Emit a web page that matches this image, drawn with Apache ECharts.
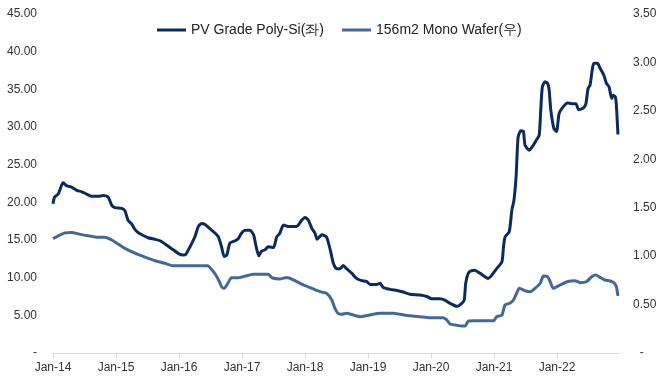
<!DOCTYPE html>
<html><head><meta charset="utf-8">
<script src="https://cdn.jsdelivr.net/npm/echarts@6/dist/echarts.min.js"></script>
<style>html,body{margin:0;padding:0;background:#fff}#c{width:669px;height:383px}</style>
</head><body><div id="c"></div>
<script>
// x positions: months since Jan-2014
const xTickLabels = ['Jan-14','Jan-15','Jan-16','Jan-17','Jan-18','Jan-19','Jan-20','Jan-21','Jan-22'];
const seriesNames = ['PV Grade Poly-Si(좌)', '156m2 Mono Wafer(우)'];
const polyMonth = [0,0.3,1.0,1.65,1.95,2.6,3.6,4.5,5.5,6.4,7.4,8.6,9.6,10.5,11.2,11.8,13.1,13.7,14.3,15.0,15.6,16.2,17.2,18.1,19.4,20.4,21.7,22.9,23.9,24.8,25.3,26.1,27.0,27.7,28.3,28.9,29.9,30.9,31.5,32.1,32.6,33.1,33.7,34.7,35.3,35.9,36.6,37.5,38.2,38.7,39.2,39.7,40.4,41.0,42.0,42.6,43.2,43.9,44.8,46.4,47.4,48.0,48.6,49.3,49.9,50.3,51.2,52.1,52.8,53.4,54.0,54.7,55.3,55.9,56.9,57.8,58.8,59.7,60.4,61.6,62.3,62.9,64.2,65.5,66.7,68.0,69.9,71.2,72.1,73.7,74.7,75.6,76.9,77.5,78.3,78.6,79.1,79.6,80.3,81.3,82.9,83.6,84.5,85.5,85.8,86.1,86.9,87.4,87.8,88.2,88.4,88.6,89.1,89.6,89.9,90.7,91.5,92.1,92.6,92.9,93.2,93.7,94.2,94.5,94.8,95.4,95.9,96.4,97.2,98.0,98.8,99.6,100.1,101.0,101.5,101.9,102.3,102.7,103.0,103.7,104.2,104.9,105.4,105.9,106.4,106.7,107.1,107.3,107.6];
const polyPrice = [19.8,20.7,21.1,22.3,22.6,22.2,22.0,21.6,21.4,21.1,20.8,20.8,20.9,20.7,19.6,19.3,19.2,18.9,17.6,17.1,16.4,16.0,15.6,15.3,15.1,14.9,14.3,13.7,13.2,13.0,13.1,14.1,15.4,16.8,17.2,17.1,16.5,15.9,15.4,14.1,12.8,13.0,14.6,14.9,15.2,15.9,16.3,16.3,15.7,14.1,12.9,13.5,13.7,14.1,14.0,15.4,15.9,17.0,16.8,16.8,17.65,18.0,17.65,16.55,15.9,15.1,15.7,15.4,13.7,11.9,11.2,11.2,11.6,11.2,10.6,9.9,9.6,9.5,9.1,9.1,9.25,8.7,8.45,8.3,8.1,7.8,7.7,7.5,7.2,7.2,7.0,6.6,6.2,6.4,7.0,9.25,10.6,10.9,11.0,10.6,9.9,10.35,11.2,12.1,14.1,15.4,16.1,19.0,20.3,23.4,26.5,28.7,29.5,29.4,27.6,26.9,27.6,28.3,28.9,32.3,35.35,36.0,35.8,34.9,32.3,29.8,29.4,31.8,32.7,33.2,33.1,33.1,32.3,32.5,33.1,35.1,35.6,37.6,38.45,38.45,37.8,36.9,35.8,35.35,33.8,34.2,34.0,32.9,29.0];
const waferMonth = [0,1.0,2.3,3.6,4.8,6.7,8.6,9.9,11.2,12.4,13.7,15.6,17.5,19.4,21.3,22.9,24.5,29.4,30.3,31.0,31.7,32.1,32.6,33.3,34.0,35.3,36.9,38.2,41.0,41.7,43.2,44.2,44.8,45.8,47.7,49.3,50.9,52.1,53.1,53.7,54.3,55.0,55.9,57.2,58.5,59.7,61.0,62.3,64.8,66.1,68.0,69.9,71.8,74.3,75.0,75.6,76.6,77.9,78.5,79.1,80.1,83.9,84.5,85.5,86.1,87.0,87.7,88.3,88.8,89.9,90.9,91.8,92.8,93.4,94.2,94.7,95.3,96.6,97.9,99.4,100.4,101.6,102.6,103.4,104.2,105.1,106.1,106.8,107.3,107.6];
const waferPrice = [1.18,1.21,1.24,1.245,1.23,1.21,1.195,1.195,1.167,1.125,1.08,1.03,0.99,0.953,0.926,0.90,0.90,0.90,0.857,0.805,0.736,0.684,0.668,0.72,0.777,0.777,0.798,0.812,0.812,0.777,0.764,0.777,0.777,0.754,0.702,0.668,0.633,0.616,0.547,0.461,0.41,0.40,0.41,0.392,0.375,0.385,0.40,0.41,0.41,0.40,0.385,0.375,0.365,0.365,0.341,0.30,0.289,0.279,0.279,0.33,0.333,0.333,0.375,0.392,0.496,0.513,0.547,0.616,0.668,0.643,0.633,0.668,0.72,0.795,0.788,0.736,0.668,0.702,0.736,0.746,0.726,0.736,0.788,0.805,0.781,0.754,0.743,0.726,0.684,0.59];

const polyData = polyMonth.map((m, i) => [m, polyPrice[i]]);
const waferData = waferMonth.map((m, i) => [m, waferPrice[i]]);
const tickVals = xTickLabels.map((_, i) => i * 12);

const FONT = 'Liberation Sans';
const TXT = '#333333';
const chart = echarts.init(document.getElementById('c'), null, {renderer: 'canvas'});
chart.setOption({
  animation: false,
  backgroundColor: '#ffffff',
  textStyle: {fontFamily: FONT},
  grid: {left: 53, right: 50, top: 14, bottom: 30, containLabel: false},
  legend: {
    data: seriesNames,
    left: 152, top: 18,
    itemWidth: 29, itemHeight: 3, itemGap: 18,
    icon: 'rect',
    textStyle: {fontFamily: FONT, fontSize: 14, color: '#222'}
  },
  xAxis: {
    type: 'value', min: 0, max: 107.8,
    splitLine: {show: false},
    axisLine: {show: true, lineStyle: {color: '#d9d9d9', width: 1}},
    axisTick: {show: true, length: 5, lineStyle: {color: '#d9d9d9'}, customValues: tickVals},
    axisLabel: {customValues: tickVals, fontSize: 12, color: TXT, fontFamily: FONT, margin: 9,
      formatter: v => xTickLabels[Math.round(v / 12)] || ''}
  },
  yAxis: [
    {type: 'value', min: 0, max: 45, interval: 5,
     splitLine: {show: false}, axisLine: {show: false}, axisTick: {show: false},
     axisLabel: {fontSize: 12, color: TXT, fontFamily: FONT, margin: 16,
       formatter: v => v === 0 ? '-' : v.toFixed(2)}},
    {type: 'value', min: 0, max: 3.5, interval: 0.5,
     splitLine: {show: false}, axisLine: {show: false}, axisTick: {show: false},
     axisLabel: {fontSize: 12, color: TXT, fontFamily: FONT, margin: 14,
       formatter: v => v === 0 ? '  -' : v.toFixed(2)}}
  ],
  series: [
    {name: seriesNames[0], type: 'line', yAxisIndex: 0, data: polyData,
     showSymbol: false, smooth: 0.2, lineStyle: {color: '#0c2a5f', width: 3, join: 'round'},
     itemStyle: {color: '#0c2a5f'}},
    {name: seriesNames[1], type: 'line', yAxisIndex: 1, data: waferData,
     showSymbol: false, smooth: 0.2, lineStyle: {color: '#44689b', width: 3, join: 'round'},
     itemStyle: {color: '#44689b'}}
  ]
});
</script></body></html>
